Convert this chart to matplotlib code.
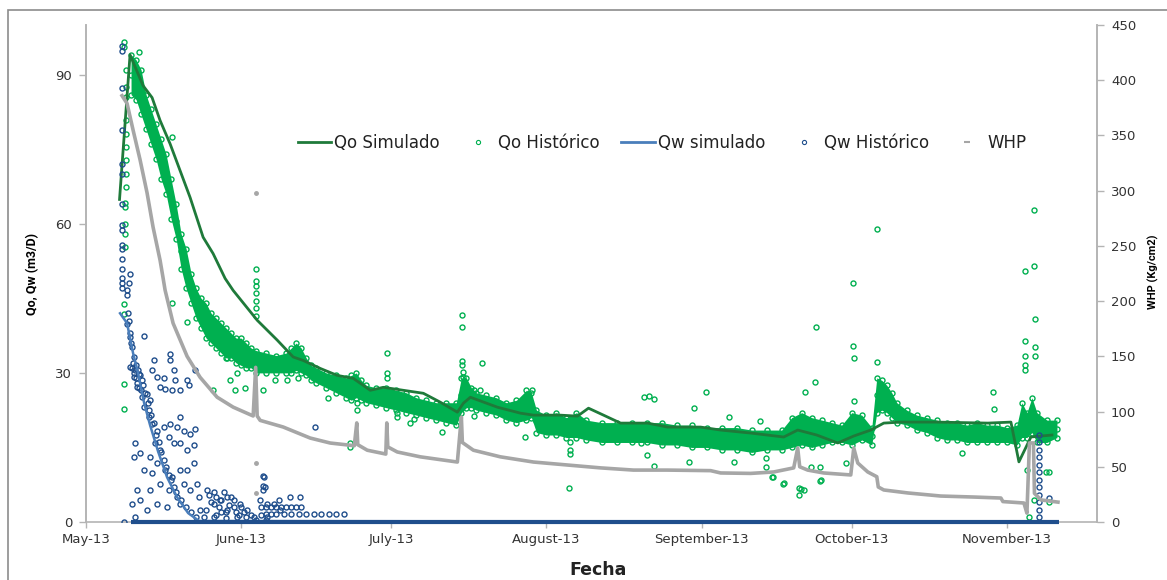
import numpy as np
import matplotlib
matplotlib.use("Agg")
import matplotlib.pyplot as plt
import matplotlib.dates as mdates
from matplotlib.lines import Line2D
from matplotlib.patches import Rectangle

# dias contados desde 2013-05-01
FECHA_BASE = "2013-05-01"

# Qo simulado (m3/D)
qo_sim_dia = [6.7, 8.8, 11.4, 13.2, 14.8, 16.8, 18.8, 20.8, 23.4, 25.4, 27.8, 29.4, 34.2, 38.2,
              41.4, 43.4, 46.8, 50.2, 53.4, 56.8, 59.4, 63.4, 67.4, 70.8, 74.2, 75.4, 76.8, 82.2,
              86.8, 89.4, 94.8, 98.2, 100.4, 103.4, 106.8, 112.2, 116.2, 122.8, 126.8, 132.8,
              139.4, 142.2, 146.0, 150.2, 153.4, 156.8, 159.4, 162.8, 170.0, 180.2, 184.8, 186.4,
              188.8, 193.0]
qo_sim_val = [64.9, 94.0, 87.8, 85.4, 80.8, 76.1, 70.7, 65.3, 57.3, 54.0, 49.0, 46.6, 40.6, 36.6,
              33.2, 32.5, 30.9, 29.5, 28.9, 26.5, 27.1, 26.5, 25.9, 24.1, 22.1, 23.9, 25.1, 23.1,
              21.9, 21.5, 21.5, 21.3, 22.9, 21.5, 19.9, 19.9, 19.1, 19.1, 18.5, 17.9,
              17.1, 18.5, 17.5, 15.9, 17.3, 18.5, 19.9, 20.1, 20.1, 19.9, 20.1, 12.1,
              17.1, 17.5]

# Qo historico: banda principal (min / max por dia)
qo_hist_dia = [9, 10, 11, 12, 13, 14, 15, 16, 17, 18, 19, 20, 21, 22, 23, 24, 25, 26, 27, 28, 29,
               30, 31, 32, 33, 34, 36, 38, 40, 41, 42, 43, 44, 45, 46, 48, 50, 52, 53, 54, 55, 56,
               58, 60, 62, 64, 66, 68, 70, 72, 74, 75, 76, 77, 78, 80, 82, 84, 86, 88, 89, 90, 92,
               94, 96, 98, 100, 103, 106, 109, 112, 115, 118, 121, 124, 127, 130, 133, 136, 139,
               141, 143, 145, 147, 149, 151, 153, 155, 157, 158, 159, 160, 161, 162, 164, 166,
               168, 170, 172, 174, 176, 178, 180, 182, 184, 186, 187, 188, 189, 190, 192, 194]
qo_hist_min = [86, 85, 82, 79, 76, 73, 69, 66, 61, 57, 51, 47, 44, 41, 39, 37, 36, 35, 34, 33, 33,
               32, 31.5, 31, 31, 30, 30, 30, 30, 30, 30.5, 30, 29.5, 28.5, 28, 27, 26, 25, 24.5,
               25, 24.5, 24, 23.5, 23, 22.5, 22, 21.5, 21, 20.5, 20, 19.5, 22, 23, 23, 22.5, 22,
               21.5, 20.5, 20, 20.5, 21, 18, 17.5, 17.5, 17, 17, 16.5, 16, 16, 16, 16, 15.5, 15.5,
               15, 15, 14.5, 14.5, 14, 14.5, 14.5, 15, 15.5, 15, 15.5, 16, 16, 15.5, 16.5, 15.5,
               22, 22.5, 22, 21, 20, 19.5, 18.5, 18, 17, 16.5, 16.5, 16, 16, 16, 16, 16, 15.5, 17,
               17, 18, 16, 16, 17]
qo_hist_max = [94, 93, 91, 86, 83, 80, 77, 74, 69, 64, 58, 55, 50, 47, 45, 44, 42, 41, 40, 39, 38,
               37, 37, 36, 35, 34.5, 34, 33.5, 34, 35, 36, 35, 33, 31.5, 31, 30, 29.5, 29, 29.5,
               30, 28.5, 27.5, 27, 27, 26.5, 26, 25, 24.5, 24, 24, 24, 29, 29, 27, 26, 25.5, 25,
               24, 24.5, 26.5, 26, 22.5, 21.5, 22, 21, 22, 20.5, 20, 20, 20, 20, 20, 19.5, 19.5,
               19, 19, 19, 18.5, 18.5, 18.5, 21, 22, 21, 20.5, 20, 19.5, 22, 21.5, 19, 29, 28.5,
               27.5, 26, 24, 22.5, 21.5, 21, 20.5, 20, 20, 19.5, 20, 19.5, 19.5, 19, 19.5, 24, 22,
               25, 22, 20.5, 20.5]

# Qo historico: puntos sueltos
qo_suelto_dia = [7.5, 7.6, 7.9, 8.0, 7.9, 8.0, 8.0, 8.0, 8.0, 8.0, 8.0, 7.8, 7.8, 7.8, 7.8, 7.8,
                 7.5, 7.6, 7.6, 7.6, 10.5, 17.1, 17.2, 20.2, 25.4, 28.8, 29.8, 31.8, 30.2, 28.2,
                 34.0, 34.0, 34.0, 34.0, 34.0, 34.0, 34.0, 35.4, 37.8, 40.2, 42.4, 54.2, 54.2,
                 60.2, 60.2, 60.2, 62.2, 52.8, 52.8, 48.4, 62.2, 64.8, 65.5, 71.2, 75.2, 75.2,
                 75.2, 75.2, 75.4, 75.4, 79.2, 77.6, 78.8, 89.2, 77.6, 87.8, 96.8, 96.8, 96.8,
                 96.6, 111.5, 112.4, 113.4, 121.4, 123.8, 128.4, 110.8, 113.4, 112.0, 120.4,
                 129.4, 137.2, 139.4, 142.4, 142.4, 158.1, 153.3, 145.9, 153.3, 153.4, 158.1,
                 145.6, 143.7, 153.5, 134.7, 137.1, 139.3, 142.9, 146.6, 144.8, 146.6, 151.8,
                 135.9, 135.8, 143.5, 146.8, 189.5, 189.5, 187.6, 189.6, 187.6, 189.6, 187.6,
                 189.6, 187.6, 187.7, 181.3, 181.5, 175.1, 188.1, 188.5, 189.5, 191.8, 192.5,
                 192.5]
qo_suelto_val = [96.5, 95.5, 90.9, 87.5, 85.5, 80.8, 78.1, 75.4, 72.8, 70.1, 67.4, 64.1, 63.4,
                 60.0, 58.0, 55.4, 43.9, 41.9, 27.8, 22.8, 94.5, 77.5, 44.0, 40.2, 26.5, 28.5,
                 26.5, 26.9, 29.9, 33.0, 51.0, 48.5, 47.5, 46.0, 44.5, 43.0, 41.5, 26.5, 28.5,
                 28.5, 28.9, 23.9, 22.5, 34.0, 29.9, 28.9, 21.1, 15.9, 15.0, 24.9, 21.9, 19.9,
                 20.8, 18.1, 41.6, 39.2, 32.3, 31.6, 30.2, 29.2, 31.9, 26.5, 26.5, 26.5, 21.3,
                 17.1, 16.1, 14.5, 13.7, 6.8, 25.1, 25.3, 24.7, 22.9, 26.1, 21.1, 15.9, 11.3,
                 13.5, 12.0, 12.0, 9.0, 7.8, 6.8, 5.4, 59.0, 48.1, 39.2, 35.4, 33.0, 32.1, 28.2,
                 26.2, 24.3, 20.4, 9.1, 7.6, 6.7, 8.3, 11.1, 11.1, 11.9, 11.1, 12.8, 6.4, 8.4,
                 62.7, 51.6, 50.6, 40.9, 36.4, 35.2, 33.5, 33.5, 31.5, 30.5, 26.2, 22.8, 13.9,
                 10.4, 1.0, 4.4, 10.1, 10.1, 4.1]

# Qw simulado (m3/D)
qw_sim_dia = [6.8, 8.2, 9.4, 10.4, 11.6, 12.8, 14.4, 16.2, 18.2, 20.4, 22.6, 194.0]
qw_sim_val = [42.0, 40.0, 34.0, 30.0, 24.0, 19.5, 14.2, 9.0, 5.0, 1.8, 0.2, 0.0]

# Qw historico (m3/D)
qw_hist_dia = [7.2, 7.2, 7.2, 7.2, 7.2, 7.2, 7.2, 7.2, 7.2, 7.2, 7.2, 7.2, 7.2, 7.2, 7.2, 7.2,
               8.8, 8.5, 8.1, 8.1, 8.3, 8.5, 8.7, 9.0, 9.3, 9.6, 9.9, 10.2, 10.6, 11.0, 9.2, 9.9,
               10.4, 10.8, 11.3, 11.8, 12.3, 12.6, 13.0, 13.5, 14.0, 14.5, 15.0, 15.5, 16.0,
               16.5, 17.0, 17.5, 18.0, 19.0, 20.0, 21.0, 22.0,
               8.1, 8.8, 9.1, 9.5, 8.8, 9.8, 9.5, 10.5, 10.1, 11.1, 11.5, 11.1, 12.1, 12.8, 13.5,
               13.1, 14.1, 15.5, 14.8, 15.8, 16.8, 16.8, 17.5, 17.8, 17.1, 18.8, 20.1, 20.5,
               21.8, 11.5, 12.5, 13.1, 14.1, 15.5, 16.8, 18.1, 18.8, 19.5, 20.8, 21.8, 16.5,
               17.5, 18.8, 20.1, 21.5, 13.8, 14.8, 12.8, 14.1, 15.8, 17.1, 18.8, 20.1, 21.5,
               19.5, 20.8, 9.8, 10.8, 9.5, 11.5, 13.1, 14.8, 16.5, 18.1, 10.1, 12.8, 14.1, 16.1,
               10.8, 9.1, 9.8, 12.1, 18.8, 22.1, 22.5, 22.8, 24.1, 25.5, 26.8, 28.1, 29.5, 30.8,
               32.1, 33.5, 28.1, 30.1, 25.5, 34.8, 35.5, 35.8, 36.1, 36.1, 37.5, 38.5, 38.8, 7.5,
               24.5, 25.0, 25.5, 26.0, 26.5, 27.0, 27.5, 28.0, 28.5, 29.0, 29.5, 30.0, 30.5,
               31.0, 31.5, 32.0, 33.0, 34.0, 35.0, 36.0, 23.5, 24.0, 26.0, 27.0, 28.0,
               35.0, 36.0, 37.0, 38.0, 39.0, 40.0, 41.0, 42.0, 43.0,
               36.0, 37.0, 38.0, 39.5, 41.0, 42.5, 44.0, 45.5, 47.0, 48.5, 50.0, 51.5,
               45.8, 42.8, 40.8, 35.4, 35.4, 35.4,
               190.4, 190.4, 190.4, 190.4, 190.4, 190.4, 190.4, 190.4, 190.4, 190.4, 190.4,
               190.4, 192.5]
qw_hist_val = [95.8, 94.8, 87.4, 78.8, 72.0, 70.0, 64.0, 59.7, 58.7, 55.7, 55.0, 53.0, 51.0, 49.0,
               48.0, 47.0, 50.0, 48.0, 46.6, 45.6, 42.0, 40.5, 38.0, 36.0, 32.0, 30.0, 29.0, 28.0,
               27.0, 26.5, 31.0, 31.5, 30.5, 29.5, 27.5, 26.0, 24.0, 22.5, 21.5, 20.0, 17.5,
               16.0, 14.0, 12.5, 11.0, 9.5, 8.5, 7.0, 6.0, 4.5, 3.0, 2.0, 1.0,
               39.9, 37.2, 35.2, 33.2, 31.2, 30.5, 29.2, 29.8, 27.2, 28.5, 37.5, 25.2, 25.8,
               24.5, 32.5, 30.5, 29.2, 28.9, 27.2, 26.8, 33.9, 32.5, 30.5, 28.5, 26.5, 26.5,
               28.5, 27.5, 30.5, 23.1, 21.1, 19.8, 18.4, 19.1, 19.8, 19.1, 21.1, 18.4, 17.8,
               18.8, 17.1, 15.8, 15.8, 14.4, 15.4, 15.8, 14.4, 13.1, 11.8, 10.4, 9.1, 10.4, 10.4,
               11.8, 7.7, 6.4, 15.8, 13.8, 13.1, 10.4, 9.8, 7.7, 6.4, 5.1, 6.4, 6.4, 3.7, 3.0,
               4.4, 3.7, 1.0, 2.4, 3.7, 7.7, 5.1, 2.4, 6.4, 3.7, 4.4, 5.1, 4.4, 3.7, 2.4, 1.0,
               2.4, 1.0, 1.0, 4.4, 9.1, 7.1, 3.7, 1.0, 3.7, 4.4, 2.4, 0.0,
               5.5, 4.0, 6.0, 5.0, 3.0, 4.5, 6.0, 2.0, 3.5, 5.0, 3.0, 2.0, 1.5, 3.0, 2.0, 1.0,
               1.5, 0.5, 1.5, 0.5, 1.0, 2.5, 1.5, 2.0, 0.8,
               3.1, 3.1, 3.1, 3.1, 3.1, 3.1, 3.1, 3.1, 3.1,
               1.6, 1.6, 1.6, 1.6, 1.6, 1.6, 1.6, 1.6, 1.6, 1.6, 1.6, 1.6,
               19.1, 5.0, 5.0, 9.2, 7.2, 6.4,
               17.5, 16.0, 14.5, 13.0, 11.5, 10.0, 8.5, 7.0, 5.5, 4.0, 2.5, 1.0, 4.8]

# lecturas Qw = 0 (tramo continuo)
qw_cero_dia = [9.0, 194.5]
qw_cero_val = [0.0, 0.0]

# WHP (Kg/cm2), eje secundario
whp_dia = [7.2, 8.2, 9.4, 10.8, 12.2, 13.4, 14.8, 15.4, 15.8, 17.4, 20.2, 22.8, 26.2, 29.4,
           33.4, 33.9, 34.2, 34.8, 39.4, 44.8, 48.8, 52.8, 53.6, 54.1, 54.3, 56.2, 59.4, 59.9,
           60.1, 60.3, 62.2, 66.8, 74.2, 75.0, 75.2, 77.4, 82.8, 89.4, 96.2, 102.8, 109.4,
           116.2, 124.8, 126.8, 132.8, 137.4, 141.4, 142.2, 142.6, 144.2, 147.4, 152.8, 153.4,
           154.2, 156.2, 158.0, 158.3, 159.4, 164.2, 170.8, 177.4, 182.8, 183.2, 187.4, 188.0,
           188.5, 189.3, 189.5, 190.8, 194.2]
whp_val = [386, 379, 355, 328, 298, 267, 237, 221, 210, 180, 150, 131, 113, 104,
           96, 140, 96, 92, 86, 76, 71.5, 69.5, 69, 89.7, 70, 65, 62, 61.5,
           89.7, 68, 63.4, 59, 54.3, 95, 72, 65, 59, 54.3, 51.6, 49, 47,
           47, 46.5, 44.4, 44, 45.3, 49, 67, 50, 47, 44.4, 42.6, 67,
           53.4, 45.3, 41, 31.7, 29, 26.3, 23.5, 22.6, 21.7, 18.5, 17.2, 8,
           71.6, 71.6, 26, 20, 18]
whp_suelto_dia = [34.0, 34.0, 34.0]
whp_suelto_val = [298, 53.5, 26.5]

VERDE_OSC = "#1f7a3a"
VERDE = "#00b050"
AZUL = "#4a7ebb"
AZUL_OSC = "#1f4e8c"
GRIS = "#a6a6a6"
EJE = "#b4b4b4"
ETIQ = ["Roboto", "DejaVu Sans"]

base = mdates.datestr2num(FECHA_BASE)


def fechas(dias):
    return base + np.asarray(dias, dtype=float)


fig = plt.figure(figsize=(11.67, 5.80), dpi=100)
ax = fig.add_axes([86 / 1167, 1 - 522 / 580, (1097 - 86) / 1167, (522 - 25) / 580])
ax2 = ax.twinx()

circ = dict(ls="none", marker="o", mfc="none", ms=3.6, mew=1.0)

# Qo historico
ax.fill_between(fechas(qo_hist_dia), qo_hist_min, qo_hist_max, color=VERDE, lw=0, zorder=2)
mid = (np.array(qo_hist_min) + np.array(qo_hist_max)) / 2
for serie in (qo_hist_min, qo_hist_max, mid):
    ax.plot(fechas(qo_hist_dia), serie, mec=VERDE, zorder=3, **circ)
ax.plot(fechas(qo_suelto_dia), qo_suelto_val, mec=VERDE, zorder=3, **circ)
ax.plot(fechas(qo_sim_dia), qo_sim_val, color=VERDE_OSC, lw=2.0, zorder=4)

# Qw
ax.plot(fechas(qw_hist_dia), qw_hist_val, mec=AZUL_OSC, zorder=5, **circ)
ax.plot(fechas(qw_sim_dia), qw_sim_val, color=AZUL, lw=1.8, zorder=6)

# WHP
ax2.plot(fechas(whp_dia), whp_val, color=GRIS, lw=2.6, zorder=3)
ax2.plot(fechas(whp_suelto_dia), whp_suelto_val, ls="none", marker="o", ms=2.5, color=GRIS)
# tramo de Qw = 0 encima de todo
ax2.plot(fechas(qw_cero_dia), qw_cero_val, color=AZUL_OSC, lw=3.0, solid_capstyle="butt",
         zorder=6, clip_on=False)

ax.set_xlim(base, base + 202)
ax.set_ylim(0, 100)
ax2.set_ylim(0, 450)
ax.set_yticks([0, 30, 60, 90])
ax2.set_yticks(range(0, 451, 50))
ax.xaxis.set_major_locator(mdates.MonthLocator())
ax.xaxis.set_major_formatter(mdates.DateFormatter("%B-%y"))

for a in (ax, ax2):
    a.spines["top"].set_visible(False)
    for s in ("left", "right", "bottom"):
        a.spines[s].set_color(EJE)
        a.spines[s].set_linewidth(1.2)
    a.tick_params(colors=EJE, labelcolor="#333333", labelsize=9.5, length=5, width=1)
ax2.spines["bottom"].set_visible(False)
ax.tick_params(axis="x", length=4, pad=4)
ax.tick_params(axis="y", pad=5)
ax2.tick_params(axis="y", pad=5)

fig.text(33 / 1167, 1 - 274 / 580, "Qo, Qw (m3/D)", rotation=90, ha="center", va="center",
         fontsize=9, fontweight="bold", family=ETIQ)
fig.text(1153 / 1167, 1 - 272 / 580, "WHP (Kg/cm2)", rotation=90, ha="center", va="center",
         fontsize=8, fontweight="bold", family=ETIQ)
fig.text(598 / 1167, 1 - 570 / 580, "Fecha", ha="center", va="center", fontsize=12.5,
         fontweight="bold", color="#222222")

handles = [
    Line2D([], [], color=VERDE_OSC, lw=2),
    Line2D([], [], ls="none", marker="o", mfc="none", mec=VERDE, ms=3, mew=0.8),
    Line2D([], [], color=AZUL, lw=2),
    Line2D([], [], ls="none", marker="o", mfc="none", mec=AZUL_OSC, ms=3, mew=0.8),
    Line2D([], [], ls="none", marker="_", color=GRIS, ms=4, mew=1.5),
]
labels = ["Qo Simulado", "Qo Histórico", "Qw simulado", "Qw Histórico", "WHP"]
ax2.legend(handles, labels, ncol=5, loc="center", bbox_to_anchor=(662 / 1167, 1 - 143 / 580),
           bbox_transform=fig.transFigure, frameon=False, fontsize=12, handlelength=2.0,
           handletextpad=0.2, columnspacing=1.3, labelcolor="#222222")

fig.add_artist(Rectangle((8 / 1167, -0.2), 1.5, 1.2 - 10 / 580, transform=fig.transFigure,
                         fill=False, ec="#8c8c8c", lw=1.2))

fig.savefig("out.png", dpi=100)
